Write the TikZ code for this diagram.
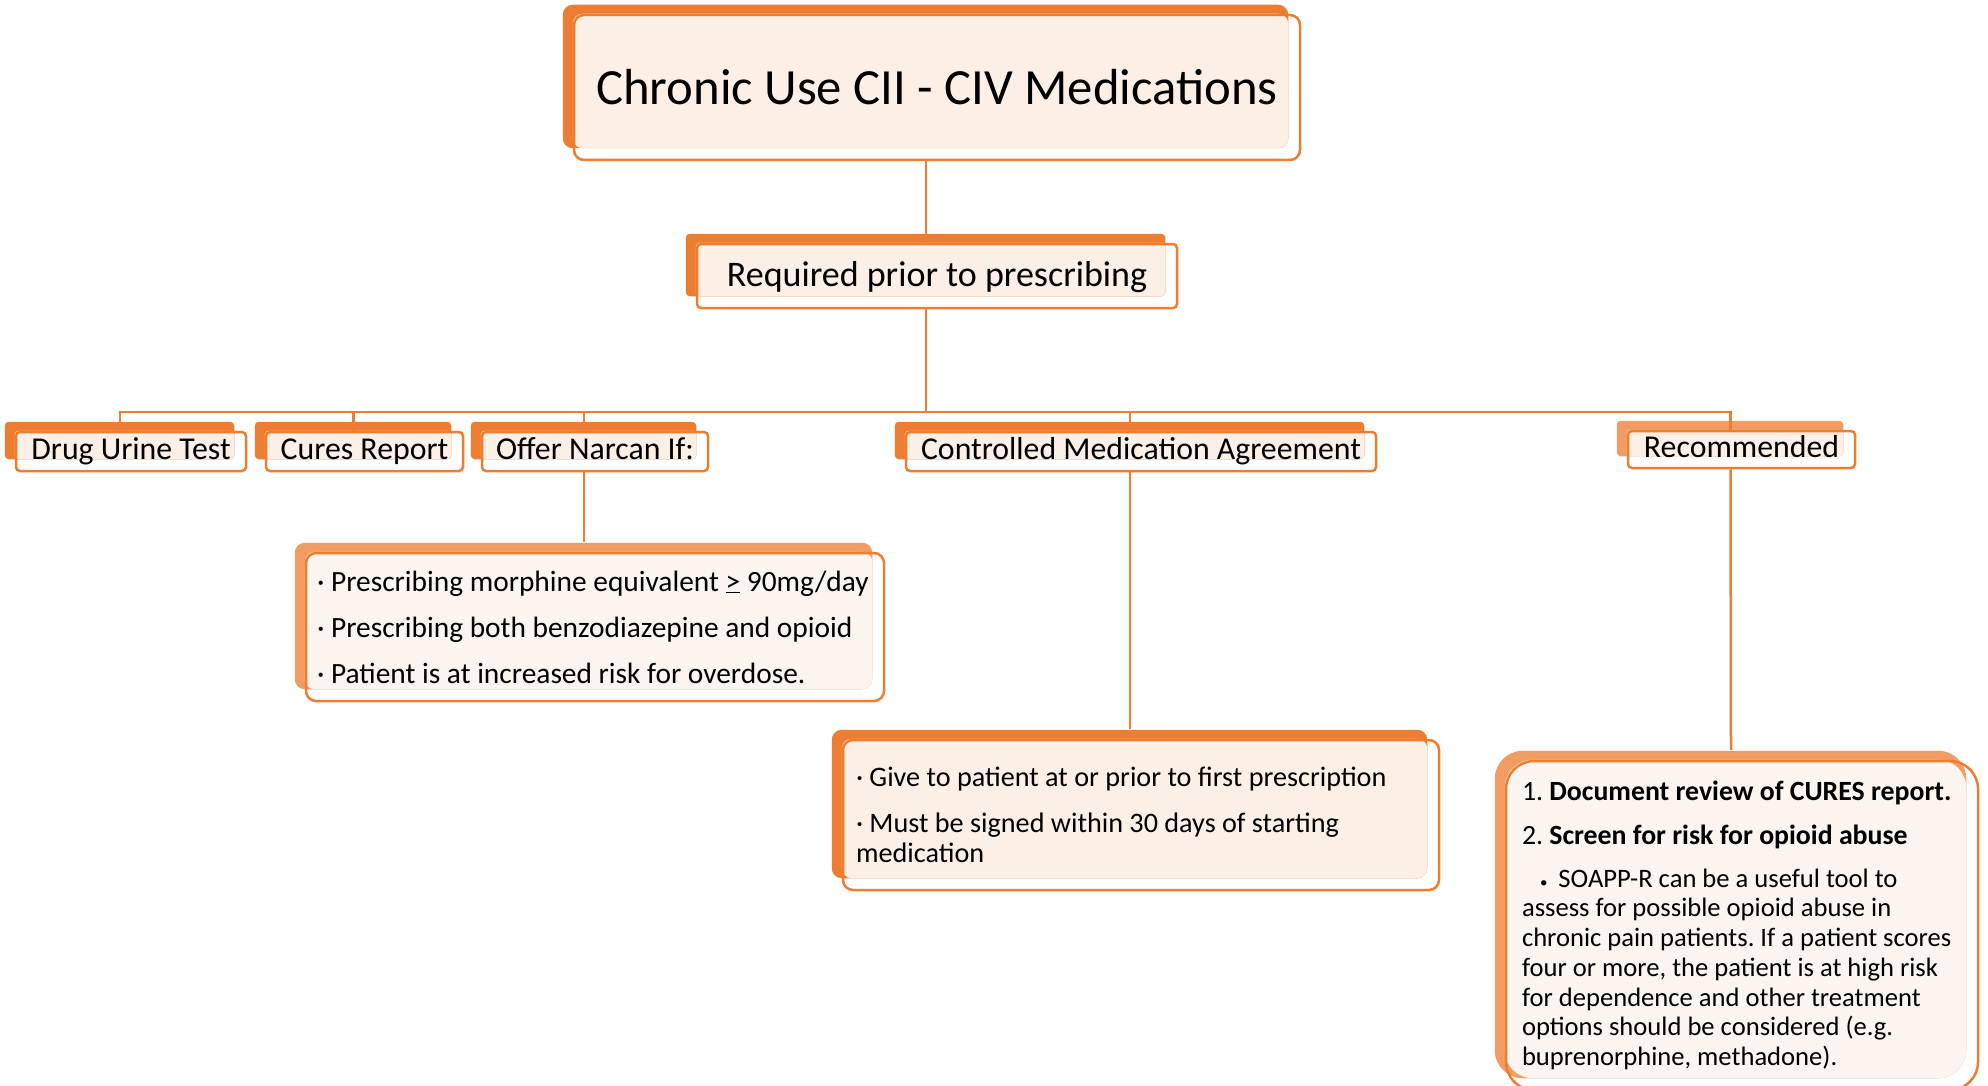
\documentclass[tikz,border=0pt]{standalone}
\usepackage{fontspec}
\setmainfont{Carlito}
\frenchspacing
\usetikzlibrary{backgrounds}
\definecolor{orD}{HTML}{ED7D31}
\definecolor{orL}{HTML}{F19C62}
\definecolor{creamA}{HTML}{FBEFE6}
\definecolor{creamB}{HTML}{FCF4EE}
\tikzset{
  box/.style={draw=orD, line width=2.5pt, rounded corners=4pt, inner sep=0pt,
    minimum height=39pt, text height=22pt, text depth=7pt, font=\fontsize{31.8}{38}\selectfont},
  bigbox/.style={draw=orD, line width=2.5pt, rounded corners=10pt, align=flush left},
  link/.style={draw=orD, line width=2.5pt},
}
\begin{document}
\begin{tikzpicture}[x=1pt,y=-1pt]
\useasboundingbox (0,0) rectangle (1988,1086);

% top of the tree
\node[box, rounded corners=10pt, minimum width=726pt, minimum height=145pt, text height=36pt, text depth=1pt,
  font=\fontsize{50.7}{60}\selectfont] (title) at (937,87.5) {Chronic Use CII - CIV Medications};
\node[box, minimum width=480pt, minimum height=64pt, text height=28pt, text depth=7pt,
  font=\fontsize{36}{43}\selectfont] (req) at (937,276) {Required prior to prescribing};

% second row
\node[box, minimum width=230pt] (drug) at (131,451.5) {Drug Urine Test};
\node[box, minimum width=197pt] (cures) at (364.5,451.5) {Cures Report};
\node[box, minimum width=226pt] (offer) at (595,451.5) {Offer Narcan If:};
\node[box, minimum width=470pt] (cma) at (1141,451.5) {Controlled Medication Agreement};
\node[box, minimum width=227pt, minimum height=37pt] (rec) at (1741.5,449.5) {Recommended};

% detail boxes
\node[bigbox, inner xsep=11pt, inner ysep=0pt, text width=556pt, minimum height=148pt,
  font=\fontsize{29.4}{34}\selectfont] (narcan) at (595,627)
  {· Prescribing morphine equivalent \underline{>} 90mg/day\\[12pt]
   · Prescribing both benzodiazepine and opioid\\[12pt]
   · Patient is at increased risk for overdose.};
\node[bigbox, inner xsep=13pt, inner ysep=0pt, text width=570pt, minimum height=150pt,
  font=\fontsize{28.2}{30}\selectfont] (cmabox) at (1141,815)
  {· Give to patient at or prior to first prescription\\[16pt]
   · Must be signed within 30 days of starting\\
   medication};
\node[bigbox, rounded corners=28pt, inner xsep=16pt, inner ysep=0pt, text width=440pt, minimum height=329pt,
  font=\fontsize{26.6}{29.7}\selectfont] (curesbox) at (1742,925.5)
  {{\fontsize{27.8}{29.7}\selectfont 1. \textbf{Document review of CURES report.}}\\[14pt]
   {\fontsize{27.8}{29.7}\selectfont 2. \textbf{Screen for risk for opioid abuse}}\\[13pt]
   \hspace*{18pt}{\fontsize{15}{15}\selectfont\textbullet}\hspace{11pt}SOAPP-R can be a useful tool to\\
   assess for possible opioid abuse in\\
   chronic pain patients. If a patient scores\\
   four or more, the patient is at high risk\\
   for dependence and other treatment\\
   options should be considered (e.g.\\
   buprenorphine, methadone).};

% tabs behind the boxes
\begin{scope}[on background layer]
\foreach \n/\bk/\fc/\rad in {title/orD/creamA/10pt, req/orD/creamA/4pt, drug/orD/creamA/4pt,
    cures/orD/creamA/4pt, offer/orD/creamA/4pt, cma/orD/creamA/4pt, rec/orL/creamA/4pt,
    narcan/orL/creamB/10pt, cmabox/orD/creamA/10pt, curesbox/orL/creamB/28pt} {
  \fill[\bk, rounded corners=\rad] ([shift={(-10,-9)}]\n.north west) rectangle ([shift={(-13,-13)}]\n.south east);
  \fill[\fc, rounded corners=\rad] (\n.north west) rectangle ([shift={(-13,-13)}]\n.south east);
}
\end{scope}

% connectors
\coordinate (hub) at (926,412);
\foreach \n in {drug,cures,offer,cma,rec}
  \coordinate (\n-up) at ([xshift=-11pt]\n.north);
\draw[link] ([xshift=-11pt]title.south) -- ([xshift=-11pt]req.north);
\draw[link] ([xshift=-11pt]req.south) -- (hub);
\draw[link] (drug-up) |- (hub) -| (rec-up);
\foreach \n in {cures,offer,cma}
  \draw[link] (\n-up) -- (\n-up |- hub);
\draw[link] ([xshift=-11pt]offer.south) -- ([shift={(-11,-10)}]narcan.north);
\draw[link] ([xshift=-11pt]cma.south) -- ([shift={(-11,-10)}]cmabox.north);
\draw[link] ([xshift=-11pt]rec.south) -- ([shift={(-11,-10)}]curesbox.north);
\end{tikzpicture}
\end{document}
